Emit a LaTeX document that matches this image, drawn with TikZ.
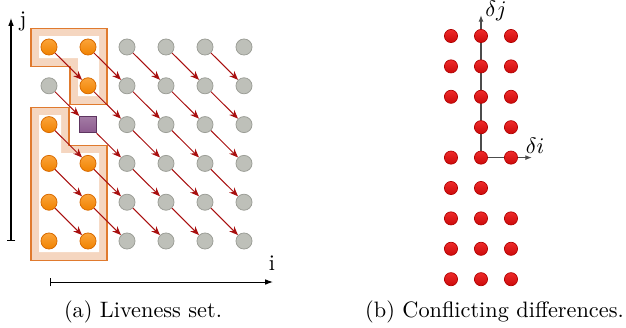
\documentclass[tikz,border=0pt]{standalone}
\usetikzlibrary{arrows.meta}
\definecolor{peach}{HTML}{F5D6C0}
\definecolor{bandline}{HTML}{E07A2E}
\definecolor{orA}{HTML}{FBA43A}
\definecolor{orB}{HTML}{F08200}
\definecolor{orLine}{HTML}{D86A00}
\definecolor{grFill}{HTML}{BEC0B9}
\definecolor{grLine}{HTML}{9C9E97}
\definecolor{puFill}{HTML}{8C5A8E}
\definecolor{puLine}{HTML}{5E3560}
\definecolor{arrRed}{HTML}{A80F0F}
\definecolor{rdA}{HTML}{EE2A2A}
\definecolor{rdB}{HTML}{CC0A0A}
\definecolor{rdLine}{HTML}{B00000}
\tikzset{
  odot/.style={circle,inner sep=0pt,minimum size=7.2pt,draw=orLine,line width=0.35pt,top color=orA,bottom color=orB},
  gdot/.style={circle,inner sep=0pt,minimum size=7.2pt,draw=grLine,line width=0.35pt,fill=grFill},
  sqbox/.style={rectangle,inner sep=0pt,minimum size=7.4pt,draw=puLine,line width=0.4pt,top color=puFill!80!white,bottom color=puFill},
  rdot/.style={circle,inner sep=0pt,minimum size=5.9pt,draw=rdLine,line width=0.3pt,top color=rdA,bottom color=rdB},
  arr/.style={draw=arrRed,line width=0.45pt,-{Stealth[length=4pt,width=3.2pt]}},
  band/.style={fill=peach,draw=bandline,line width=0.45pt},
  innerwhite/.style={fill=white},
  axisl/.style={draw=black,line width=0.45pt},
  axisr/.style={draw=black!70,line width=0.5pt,-{Latex[length=3pt,width=2.2pt]}},
  lbl/.style={inner sep=0pt},
  captext/.style={inner sep=0pt,anchor=base}
}
\begin{document}
\begin{tikzpicture}[x=0.4484pt,y=-0.4484pt]
\useasboundingbox (0,0) rectangle (626,327);
% bands
\draw[band] (31,28) -- (107,28) -- (107,104) -- (70,104) -- (70,66) -- (31,66) -- cycle;
\fill[innerwhite] (39,36) -- (99,36) -- (99,96) -- (78,96) -- (78,58) -- (39,58) -- cycle;
\draw[band] (31,107) -- (69,107) -- (69,145) -- (107,145) -- (107,260) -- (31,260) -- cycle;
\fill[innerwhite] (39,115) -- (61,115) -- (61,153) -- (99,153) -- (99,252) -- (39,252) -- cycle;
% grid points
\foreach \i/\j in {0/5,1/5,1/4,0/3,0/2,1/2,0/1,1/1,0/0,1/0}
  \node[odot] (p\i\j) at ({49+39*\i},{241-38.8*\j}) {};
\node[gdot] (p04) at (49,{241-38.8*4}) {};
\node[sqbox] (p13) at (88,{241-38.8*3}) {};
\foreach \i in {2,...,5}
  \foreach \j in {0,...,5}
    \node[gdot] (p\i\j) at ({49+39*\i},{241-38.8*\j}) {};
% dependences
\foreach \i in {0,...,4}{
  \foreach \j in {1,...,5}{
    \pgfmathtruncatemacro\ii{\i+1}
    \pgfmathtruncatemacro\jj{\j-1}
    \draw[arr] (p\i\j) -- (p\ii\jj);
  }
}
% left axes
\coordinate (jlow) at (11,241);
\coordinate (jtop) at (11,18);
\draw[axisl,{Bar[width=4pt]}-{Latex[length=3.5pt,width=2.5pt]}] (jlow) -- (jtop);
\node[lbl] (jl) at (23,21.5) {j};
\coordinate (ilow) at (50,282);
\coordinate (itop) at (273,282);
\draw[axisl,{Bar[width=4pt]}-{Latex[length=3.5pt,width=2.5pt]}] (ilow) -- (itop);
\node[lbl] (il) at (272,263) {i};
% right panel
\coordinate (o) at (481,157.6);
\coordinate (djtip) at (481,15);
\coordinate (ditip) at (532,157.6);
\draw[axisr] (o) -- (djtip);
\draw[axisr] (o) -- (ditip);
\node[lbl] (djl) at (496,11) {$\delta j$};
\node[lbl] (dil) at (535,146) {$\delta i$};
\foreach \r/\cols in {0/{0,1,2},1/{0,1,2},2/{0,1,2},3/{1,2},4/{0,1,2},5/{0,1},6/{0,1,2},7/{0,1,2},8/{0,1,2}}{
  \foreach \c in \cols
    \node[rdot] (d\c\r) at ({451+30*\c},{36+30.4*\r}) {};
}
% captions
\node[captext] (capa) at (143,317) {(a) Liveness set.};
\node[captext] (capb) at (494.5,317) {(b) Conflicting differences.};
\end{tikzpicture}
\end{document}
